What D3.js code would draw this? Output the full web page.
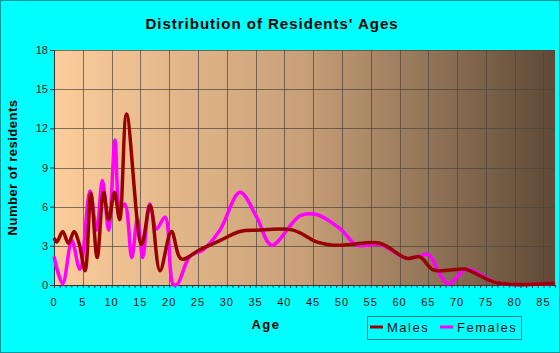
<!DOCTYPE html>
<html>
<head>
<meta charset="utf-8">
<script src="https://cdn.jsdelivr.net/npm/d3@7"></script>
<style>
  body { margin: 0; background: #00ffff; }
  text { font-family: "Liberation Sans", Arial, sans-serif; }
</style>
</head>
<body>
<div class="chart"></div>
<script>
// ages / values (knots of the smoothed curves)
const maleAges = [0, 0.5, 1.5, 2.5, 3.5, 4.4, 5.4, 6.4, 7.5, 8.6, 9.5, 10.5, 11.4, 12.6, 15.2, 16.7, 18.4, 20.4, 22.1, 25.3, 28.8, 32.3, 35.2, 41.5, 45.6, 48.5, 51.4, 56.6, 61.2, 63.5, 65.9, 68.8, 71.4, 77.1, 87];
const maleValues = [3.6, 3.3, 4.1, 3.2, 4.1, 3.1, 1.1, 7.0, 2.1, 7.1, 5.0, 7.1, 5.0, 13.1, 3.1, 6.1, 1.1, 4.1, 2.0, 2.7, 3.4, 4.1, 4.2, 4.2, 3.3, 3.05, 3.1, 3.2, 2.05, 2.15, 1.15, 1.15, 1.2, 0.15, 0.15];

const femaleAges = [0, 1.5, 3.1, 4.5, 6.25, 7.4, 8.4, 9.5, 10.6, 11.5, 12.3, 13.5, 14.5, 15.4, 16.6, 17.8, 19.3, 20.7, 21.4, 23.6, 25.9, 28.8, 32.3, 35.2, 37.8, 42.7, 45.6, 49.7, 52.6, 56.6, 61.2, 63.5, 65, 68.4, 71.7, 77.1, 87];
const femaleValues = [2.2, 0.1, 3.4, 1.2, 7.2, 4.2, 8.0, 4.2, 11.1, 5.9, 6.2, 2.1, 5.1, 2.1, 6.2, 4.3, 5.2, 0.05, 0.05, 2.2, 2.7, 4.2, 7.1, 5.2, 3.05, 5.3, 5.4, 4.3, 3.05, 3.1, 2.05, 2.2, 2.35, 0.1, 1.2, 0.15, 0.15];

const xTicks = d3.range(0, 90, 5);
const yTicks = d3.range(0, 19, 3);
const seriesNames = ["Males", "Females"];
const seriesColors = ["#990000", "#ff00ff"];

const W = 560, H = 353;
const plot = { left: 54, top: 50, right: 555, bottom: 285 };

const svg = d3.select(".chart").append("svg")
  .attr("width", W).attr("height", H);

// outer frame
svg.append("rect")
  .attr("x", 0.5).attr("y", 0.5)
  .attr("width", W - 1).attr("height", H - 1)
  .attr("fill", "#00ffff").attr("stroke", "#009a9a");

const x = d3.scaleLinear().domain([0, 87]).range([plot.left, plot.right]);
const y = d3.scaleLinear().domain([0, 18]).range([plot.bottom, plot.top]);

// background gradient
const grad = svg.append("defs").append("linearGradient")
  .attr("id", "bg").attr("x1", "0%").attr("x2", "100%");
grad.append("stop").attr("offset", "0%").attr("stop-color", "#fdcd9b");
grad.append("stop").attr("offset", "50%").attr("stop-color", "#c79f78");
grad.append("stop").attr("offset", "100%").attr("stop-color", "#5d4936");

svg.append("rect")
  .attr("x", plot.left).attr("y", plot.top)
  .attr("width", plot.right - plot.left).attr("height", plot.bottom - plot.top)
  .attr("fill", "url(#bg)");

// grid
const grid = svg.append("g").attr("stroke", "#4a4540").attr("stroke-opacity", 0.7);
grid.selectAll(".gx").data(xTicks.filter(d => d > 0)).join("line")
  .attr("x1", d => Math.round(x(d)) + 0.5).attr("x2", d => Math.round(x(d)) + 0.5)
  .attr("y1", plot.top).attr("y2", plot.bottom);
grid.selectAll(".gy").data(yTicks.filter(d => d > 0)).join("line")
  .attr("y1", d => Math.round(y(d)) + 0.5).attr("y2", d => Math.round(y(d)) + 0.5)
  .attr("x1", plot.left).attr("x2", plot.right);

// axes
const xAxis = d3.axisBottom(x).tickValues(d3.range(0, 88, 1)).tickSize(3).tickFormat("");
svg.append("g").attr("transform", `translate(0,${plot.bottom})`).call(xAxis)
  .call(g => g.select(".domain").attr("stroke", "#333"))
  .call(g => g.selectAll(".tick line").attr("stroke", "#333"));

svg.append("g").selectAll("text").data(xTicks).join("text")
  .attr("x", d => x(d)).attr("y", 306)
  .attr("text-anchor", "middle")
  .attr("font-size", 11).attr("letter-spacing", 1)
  .attr("fill", "#111")
  .text(d => d);

const yAxis = d3.axisLeft(y).tickValues(yTicks).tickSize(4).tickPadding(2);
svg.append("g").attr("transform", `translate(${plot.left},0)`).call(yAxis)
  .call(g => g.select(".domain").attr("stroke", "#333"))
  .call(g => g.selectAll(".tick line").attr("stroke", "#333"))
  .call(g => g.selectAll(".tick text")
    .attr("font-family", "Liberation Sans, Arial, sans-serif")
    .attr("font-size", 11).attr("fill", "#222"));

// lines
const line = d3.line().x(d => x(d[0])).y(d => y(d[1])).curve(d3.curveCatmullRom.alpha(0.5));
const females = femaleAges.map((a, i) => [a, femaleValues[i]]);
const males = maleAges.map((a, i) => [a, maleValues[i]]);

svg.append("path").datum(females)
  .attr("d", line).attr("fill", "none")
  .attr("stroke", seriesColors[1]).attr("stroke-width", 3.5);
svg.append("path").datum(males)
  .attr("d", line).attr("fill", "none")
  .attr("stroke", seriesColors[0]).attr("stroke-width", 3.5);

// titles
svg.append("text")
  .attr("x", 272).attr("y", 29)
  .attr("text-anchor", "middle")
  .attr("font-size", 15).attr("font-weight", "bold").attr("letter-spacing", 1)
  .text("Distribution of Residents' Ages");

svg.append("text")
  .attr("transform", `translate(17,${(plot.top + plot.bottom) / 2}) rotate(-90)`)
  .attr("text-anchor", "middle")
  .attr("font-size", 13).attr("font-weight", "bold").attr("letter-spacing", 0.5)
  .text("Number of residents");

svg.append("text")
  .attr("x", 266).attr("y", 329)
  .attr("text-anchor", "middle")
  .attr("font-size", 13).attr("font-weight", "bold").attr("letter-spacing", 1.5)
  .text("Age");

// legend
const legend = svg.append("g");
legend.append("rect")
  .attr("x", 367.5).attr("y", 316.5).attr("width", 154).attr("height", 23)
  .attr("fill", "none").attr("stroke", "#008080");
const legendX = [370, 440];
seriesNames.forEach((name, i) => {
  legend.append("line")
    .attr("x1", legendX[i]).attr("x2", legendX[i] + 13)
    .attr("y1", 327).attr("y2", 327)
    .attr("stroke", seriesColors[i]).attr("stroke-width", 3);
  legend.append("text")
    .attr("x", legendX[i] + 17).attr("y", 332)
    .attr("font-size", 13).attr("letter-spacing", 1.5)
    .attr("fill", "#111")
    .text(name);
});
</script>
</body>
</html>
